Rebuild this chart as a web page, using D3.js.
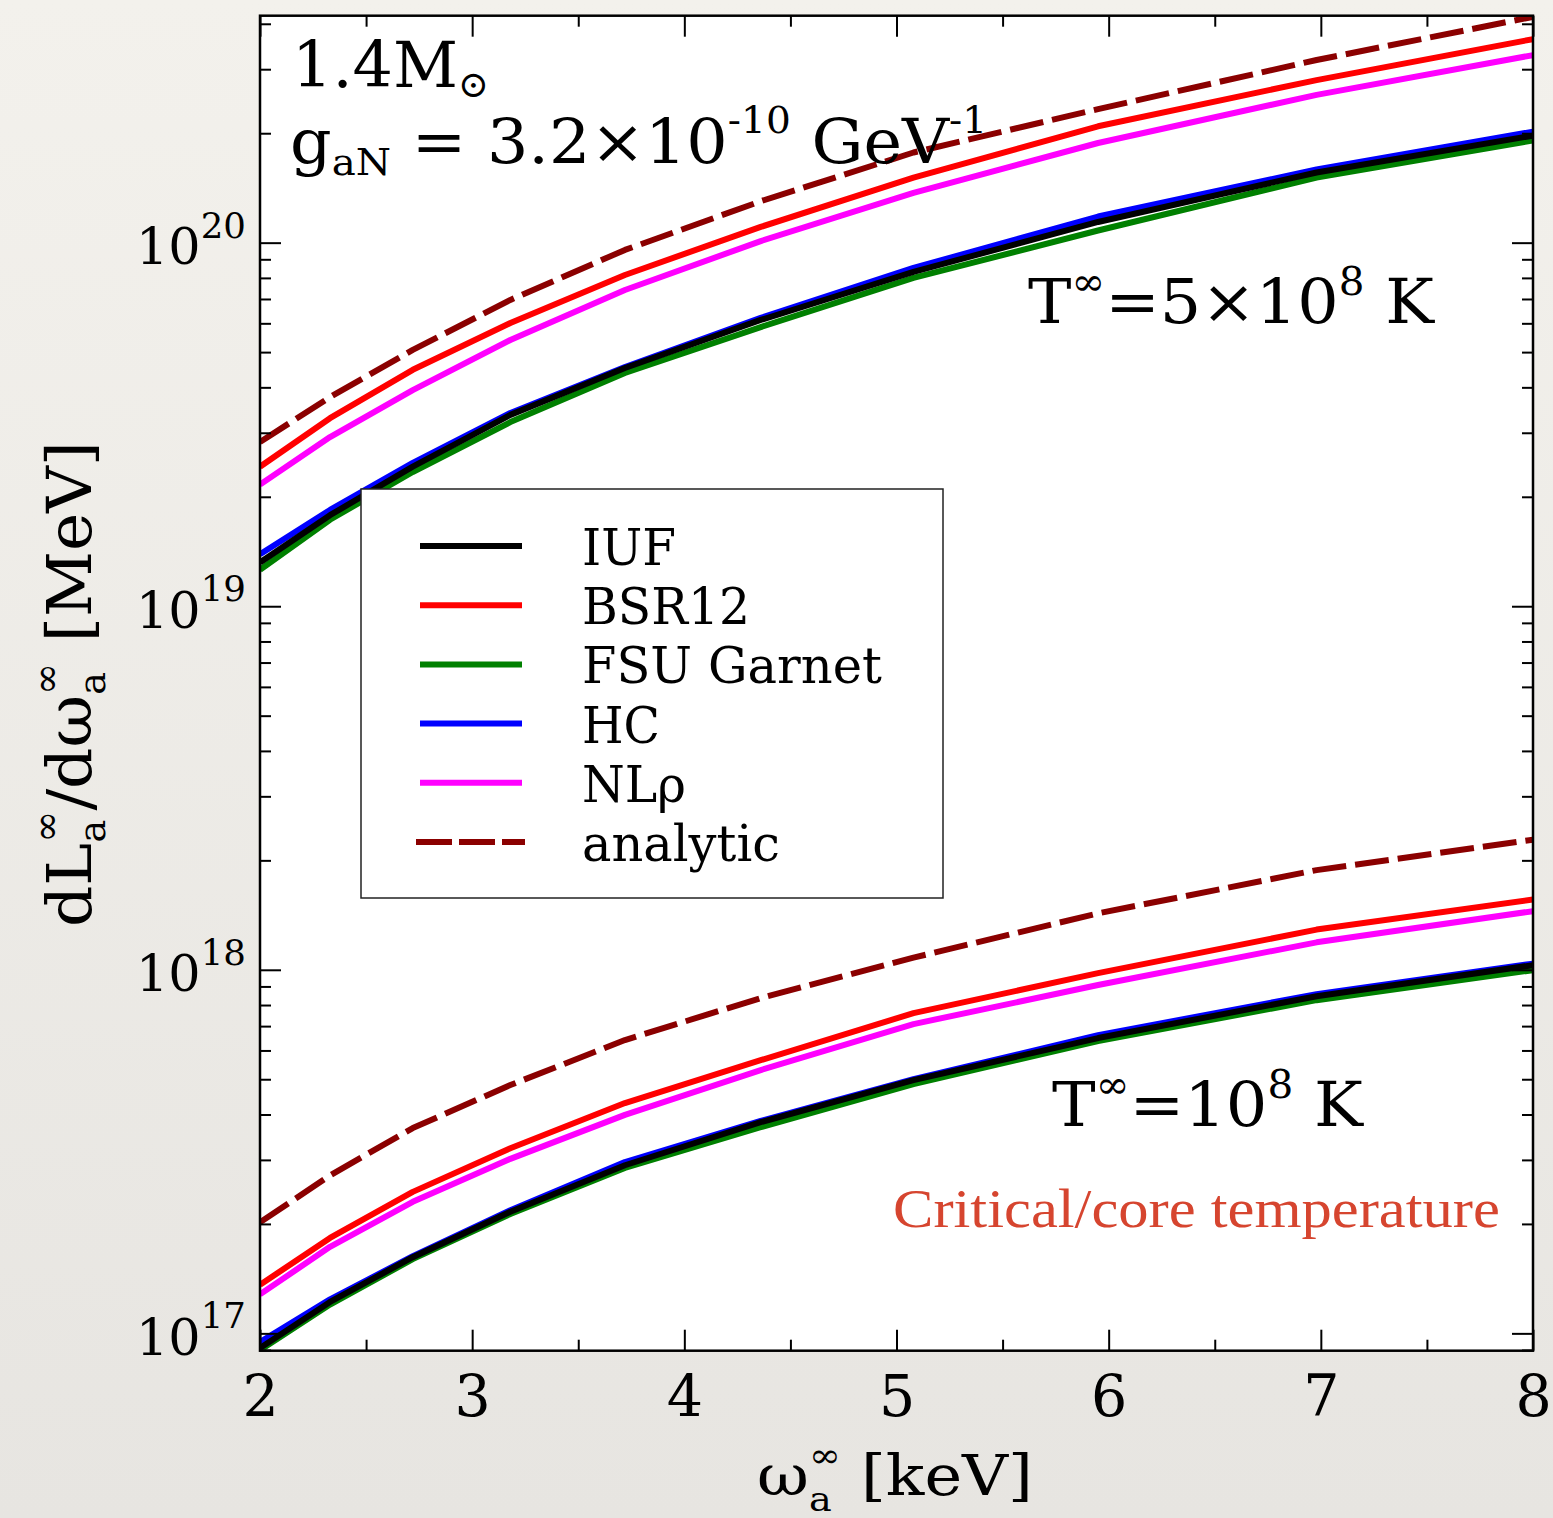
<!DOCTYPE html>
<html>
<head>
<meta charset="utf-8">
<script src="https://cdn.jsdelivr.net/npm/d3@7"></script>
<style>
  html, body { margin: 0; padding: 0; }
  body { width: 1553px; height: 1518px; overflow: hidden; }
  svg { display: block; }
  text { white-space: pre; }
</style>
</head>
<body>
<svg id="chart" width="1553" height="1518"></svg>
<script>
// ---------------- data ----------------
const energies = [2, 2.33, 2.72, 3.18, 3.72, 4.36, 5.08, 5.95, 6.98, 8];   // keV
const xTickValues = [2, 3, 4, 5, 6, 7, 8];
const xMinorValues = [2.5, 3.5, 4.5, 5.5, 6.5, 7.5];
const yDecades = [17, 18, 19, 20];

const seriesNames = ["IUF", "BSR12", "FSU Garnet", "HC", "NLρ", "analytic"];

// T = 5e8 K
const iufHot      = [1.32e19, 1.78e19, 2.42e19, 3.36e19, 4.52e19, 6.13e19, 8.31e19, 1.14e20, 1.56e20, 1.97e20];
const bsr12Hot    = [2.42e19, 3.29e19, 4.47e19, 6.01e19, 8.15e19, 1.105e20, 1.51e20, 2.09e20, 2.80e20, 3.63e20];
const fsuHot      = [1.26e19, 1.73e19, 2.34e19, 3.21e19, 4.38e19, 5.86e19, 8.00e19, 1.08e20, 1.51e20, 1.91e20];
const hcHot       = [1.39e19, 1.84e19, 2.48e19, 3.40e19, 4.55e19, 6.21e19, 8.52e19, 1.18e20, 1.59e20, 2.02e20];
const nlrhoHot    = [2.16e19, 2.92e19, 3.93e19, 5.40e19, 7.41e19, 1.01e20, 1.37e20, 1.88e20, 2.55e20, 3.28e20];
const analyticHot = [2.83e19, 3.76e19, 5.07e19, 6.96e19, 9.55e19, 1.30e20, 1.77e20, 2.33e20, 3.18e20, 4.18e20];

// T = 1e8 K
const iufCold      = [9.11e16, 1.22e17, 1.62e17, 2.16e17, 2.90e17, 3.81e17, 4.97e17, 6.49e17, 8.46e17, 1.03e18];
const bsr12Cold    = [1.36e17, 1.83e17, 2.45e17, 3.23e17, 4.30e17, 5.64e17, 7.60e17, 9.79e17, 1.29e18, 1.56e18];
const fsuCold      = [8.99e16, 1.20e17, 1.60e17, 2.13e17, 2.85e17, 3.69e17, 4.85e17, 6.37e17, 8.25e17, 9.98e17];
const hcCold       = [9.46e16, 1.24e17, 1.63e17, 2.18e17, 2.96e17, 3.84e17, 5.00e17, 6.61e17, 8.57e17, 1.04e18];
const nlrhoCold    = [1.28e17, 1.73e17, 2.30e17, 3.02e17, 3.99e17, 5.30e17, 7.09e17, 9.08e17, 1.19e18, 1.45e18];
const analyticCold = [2.02e17, 2.72e17, 3.67e17, 4.82e17, 6.41e17, 8.36e17, 1.08e18, 1.43e18, 1.88e18, 2.28e18];

// ---------------- styles ----------------
const seriesColors = ["#000000", "#ff0000", "#008000", "#0000ff", "#ff00ff", "#8b0000"];
const FONT = "'DejaVu Serif', 'Liberation Serif', serif";
const W = 1553, H = 1518;
const M = { left: 260, right: 1533, top: 15.7, bottom: 1350.7 };

const svg = d3.select("#chart");
const defs = svg.append("defs");
const grad = defs.append("linearGradient").attr("id", "paper")
  .attr("x1", 0).attr("y1", 0).attr("x2", 0).attr("y2", 1);
grad.append("stop").attr("offset", "0%").attr("stop-color", "#f3f1ec");
grad.append("stop").attr("offset", "100%").attr("stop-color", "#e7e5e1");
svg.append("rect").attr("width", W).attr("height", H).attr("fill", "url(#paper)");

defs.append("clipPath").attr("id", "plotclip").append("rect")
  .attr("x", M.left).attr("y", M.top)
  .attr("width", M.right - M.left).attr("height", M.bottom - M.top);

svg.append("rect").attr("x", M.left).attr("y", M.top)
  .attr("width", M.right - M.left).attr("height", M.bottom - M.top)
  .attr("fill", "#ffffff");

const x = d3.scaleLinear().domain([2, 8]).range([M.left, M.right]);
const y = d3.scaleLog().domain([8.96e16, 4.21e20]).range([M.bottom, M.top]);

// ---------------- rich text helper ----------------
function rich(parent, pieces, o) {
  const g = parent.append("g")
    .attr("transform", `translate(${o.x},${o.y}) rotate(${o.rotate || 0})`);
  const inner = g.append("g");
  const fs = o.size;
  const fam = o.family || FONT;
  const col = o.color || "#000";
  let cx = 0;
  const mk = (t, size, dy) => inner.append("text")
    .attr("x", cx).attr("y", dy)
    .attr("xml:space", "preserve")
    .style("white-space", "pre")
    .attr("font-family", fam).attr("font-size", size)
    .attr("fill", col).text(t);
  pieces.forEach(p => {
    if (p.n !== undefined) {
      const t = mk(p.n, fs, 0);
      cx += t.node().getComputedTextLength();
    } else {
      let w = 0;
      if (p.sub !== undefined) {
        const t = mk(p.sub, fs * (p.subSize || 0.62), fs * (p.subDy !== undefined ? p.subDy : 0.2));
        w = Math.max(w, t.node().getComputedTextLength());
      }
      if (p.sup !== undefined) {
        const t = mk(p.sup, fs * (p.supSize || 0.62), -fs * (p.supDy !== undefined ? p.supDy : 0.45));
        w = Math.max(w, t.node().getComputedTextLength());
      }
      cx += w + (p.gap || 0);
    }
  });
  const target = o.width || cx;
  const sx = target / cx;
  let off = 0;
  if (o.anchor === "end") off = -target;
  else if (o.anchor === "middle") off = -target / 2;
  inner.attr("transform", `translate(${off},0) scale(${sx},1)`);
  return g;
}

// ---------------- lines ----------------
const line = d3.line()
  .x((d, i) => x(energies[i]))
  .y(d => y(d));

const plot = svg.append("g").attr("clip-path", "url(#plotclip)");

// draw order: FSU, HC, BSR12, NLρ, IUF, analytic
const drawOrder = [
  [fsuHot, fsuCold, 2],
  [hcHot, hcCold, 3],
  [bsr12Hot, bsr12Cold, 1],
  [nlrhoHot, nlrhoCold, 4],
  [iufHot, iufCold, 0],
  [analyticHot, analyticCold, 5]
];
drawOrder.forEach(([hot, cold, idx]) => {
  [hot, cold].forEach(arr => {
    const p = plot.append("path").datum(arr)
      .attr("d", line)
      .attr("fill", "none")
      .attr("stroke", seriesColors[idx])
      .attr("stroke-width", 6)
      .attr("stroke-linejoin", "round");
    if (idx === 5) p.attr("stroke-dasharray", "34,9");
  });
});

// ---------------- axes ----------------
function styleAxis(g) {
  g.select(".domain").remove();
  g.selectAll(".tick line").attr("stroke", "#000").attr("stroke-width", 2);
}
const yMajors = yDecades.map(d => Math.pow(10, d));
const yMinors = [];
for (let d = 16; d <= 20; d++) {
  for (let k = 2; k <= 9; k++) {
    const v = k * Math.pow(10, d);
    if (v > y.domain()[0] && v < y.domain()[1]) yMinors.push(v);
  }
}

// bottom
const xb = svg.append("g").attr("transform", `translate(0,${M.bottom})`)
  .call(d3.axisBottom(x).tickValues(xTickValues).tickSizeInner(-21).tickSizeOuter(0)
    .tickPadding(25).tickFormat(d3.format("d")));
styleAxis(xb);
xb.attr("font-family", FONT).attr("font-size", 57);
xb.selectAll(".tick text").attr("fill", "#000");
const xbm = svg.append("g").attr("transform", `translate(0,${M.bottom})`)
  .call(d3.axisBottom(x).tickValues(xMinorValues).tickSizeInner(-11).tickSizeOuter(0).tickFormat(""));
styleAxis(xbm);
// top
const xt = svg.append("g").attr("transform", `translate(0,${M.top})`)
  .call(d3.axisTop(x).tickValues(xTickValues).tickSizeInner(-21).tickSizeOuter(0).tickFormat(""));
styleAxis(xt);
const xtm = svg.append("g").attr("transform", `translate(0,${M.top})`)
  .call(d3.axisTop(x).tickValues(xMinorValues).tickSizeInner(-11).tickSizeOuter(0).tickFormat(""));
styleAxis(xtm);
// left
const yl = svg.append("g").attr("transform", `translate(${M.left},0)`)
  .call(d3.axisLeft(y).tickValues(yMajors).tickSizeInner(-21).tickSizeOuter(0).tickFormat(""));
styleAxis(yl);
const ylm = svg.append("g").attr("transform", `translate(${M.left},0)`)
  .call(d3.axisLeft(y).tickValues(yMinors).tickSizeInner(-11).tickSizeOuter(0).tickFormat(""));
styleAxis(ylm);
// right
const yr = svg.append("g").attr("transform", `translate(${M.right},0)`)
  .call(d3.axisRight(y).tickValues(yMajors).tickSizeInner(-21).tickSizeOuter(0).tickFormat(""));
styleAxis(yr);
const yrm = svg.append("g").attr("transform", `translate(${M.right},0)`)
  .call(d3.axisRight(y).tickValues(yMinors).tickSizeInner(-11).tickSizeOuter(0).tickFormat(""));
styleAxis(yrm);

// frame
svg.append("rect").attr("x", M.left).attr("y", M.top)
  .attr("width", M.right - M.left).attr("height", M.bottom - M.top)
  .attr("fill", "none").attr("stroke", "#000").attr("stroke-width", 2.5);

// y tick labels 10^n
yDecades.forEach(d => {
  rich(svg, [{ n: "10" }, { sup: String(d), supSize: 0.7, supDy: 0.52, gap: 0 }],
    { x: 246, y: y(Math.pow(10, d)) + 21.5, size: 51, width: 110, anchor: "end" });
});

// axis titles
rich(svg, [{ n: "ω" }, { sub: "a", sup: "∞", subSize: 0.6, supSize: 0.6, subDy: 0.28, supDy: 0.5 }, { n: " [keV]" }],
  { x: 757, y: 1495, size: 56, width: 276 });

rich(svg, [{ n: "dL" }, { sub: "a", sup: "∞", subSize: 0.6, supSize: 0.6, subDy: 0.22, supDy: 0.52 },
           { n: "/dω" }, { sub: "a", sup: "∞", subSize: 0.6, supSize: 0.6, subDy: 0.22, supDy: 0.52 },
           { n: " [MeV]" }],
  { x: 91, y: 927, rotate: -90, size: 62, width: 486 });

// annotations
rich(svg, [{ n: "1.4M" }, { sub: "⊙", subSize: 0.58, subDy: 0.15 }],
  { x: 292, y: 87, size: 64, width: 197 });

rich(svg, [{ n: "g" }, { sub: "aN", subSize: 0.62, subDy: 0.2 }, { n: " = 3.2×10" },
           { sup: "-10", supSize: 0.6, supDy: 0.49 }, { n: " GeV" }, { sup: "-1", supSize: 0.6, supDy: 0.49 }],
  { x: 290, y: 163, size: 61, width: 697 });

rich(svg, [{ n: "T" }, { sup: "∞", supSize: 0.62, supDy: 0.45 }, { n: "=5×10" },
           { sup: "8", supSize: 0.62, supDy: 0.45 }, { n: " K" }],
  { x: 1028, y: 323, size: 62, width: 406 });

rich(svg, [{ n: "T" }, { sup: "∞", supSize: 0.62, supDy: 0.45 }, { n: "=10" },
           { sup: "8", supSize: 0.62, supDy: 0.45 }, { n: " K" }],
  { x: 1052, y: 1126, size: 62, width: 311 });

rich(svg, [{ n: "Critical/core temperature" }],
  { x: 893, y: 1227, size: 54, width: 607, family: "'Liberation Serif', 'DejaVu Serif', serif", color: "#d6452f" });

// ---------------- legend ----------------
const leg = svg.append("g");
leg.append("rect").attr("x", 361).attr("y", 489).attr("width", 582).attr("height", 409)
  .attr("fill", "#ffffff").attr("stroke", "#222").attr("stroke-width", 1.5);
seriesNames.forEach((name, i) => {
  const cy = 546 + i * 59.2;
  const l = leg.append("line")
    .attr("x1", i === 5 ? 416 : 420).attr("x2", i === 5 ? 525 : 522)
    .attr("y1", cy).attr("y2", cy)
    .attr("stroke", seriesColors[i]).attr("stroke-width", 6);
  if (i === 5) l.attr("stroke-dasharray", "36,7");
  rich(leg, [{ n: name }], { x: 582, y: cy + 19, size: 51,
    width: { "IUF": 94, "BSR12": 168, "FSU Garnet": 300, "HC": 78, "NLρ": 104, "analytic": 198 }[name] });
});
</script>
</body>
</html>
